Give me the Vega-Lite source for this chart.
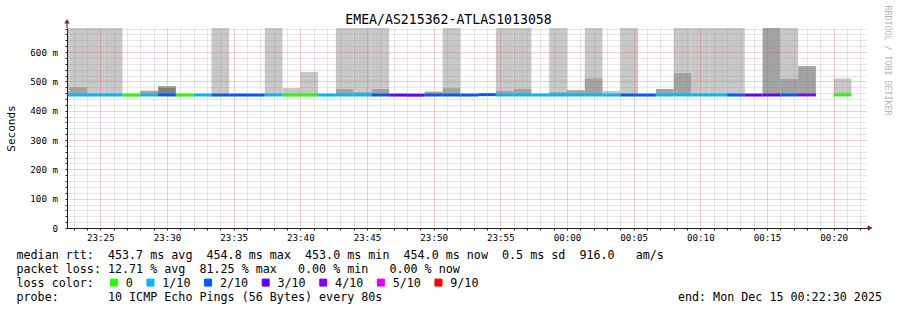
{
  "$schema": "https://vega.github.io/schema/vega-lite/v6.json",
  "width": 800,
  "height": 200,
  "autosize": {"type": "none"},
  "padding": {"left": 67, "top": 28, "right": 30, "bottom": 82},
  "background": "white",
  "config": {"view": {"stroke": null}, "font": "DejaVu Sans Mono"},
  "title": {"text": "EMEA/AS215362-ATLAS1013058", "font": "DejaVu Sans Mono", "fontSize": 13.2, "fontWeight": "normal", "color": "#000000", "anchor": "middle", "frame": "group", "dx": -18.5, "dy": 36.5, "baseline": "alphabetic", "offset": 4},
  "datasets": {
    "smoke": [
      {"t0": "2025-12-14T23:21:20", "t1": "2025-12-14T23:22:40", "lo": 453.5, "hi": 464, "shade": "dark"},
      {"t0": "2025-12-14T23:21:20", "t1": "2025-12-14T23:22:40", "lo": 464, "hi": 682, "shade": "light"},
      {"t0": "2025-12-14T23:22:40", "t1": "2025-12-14T23:24:00", "lo": 453.5, "hi": 482, "shade": "dark"},
      {"t0": "2025-12-14T23:22:40", "t1": "2025-12-14T23:24:00", "lo": 482, "hi": 682, "shade": "light"},
      {"t0": "2025-12-14T23:24:00", "t1": "2025-12-14T23:25:20", "lo": 453.5, "hi": 682, "shade": "light"},
      {"t0": "2025-12-14T23:25:20", "t1": "2025-12-14T23:26:40", "lo": 453.5, "hi": 682, "shade": "light"},
      {"t0": "2025-12-14T23:28:00", "t1": "2025-12-14T23:29:20", "lo": 453.5, "hi": 468, "shade": "dark"},
      {"t0": "2025-12-14T23:29:20", "t1": "2025-12-14T23:30:40", "lo": 453.5, "hi": 480, "shade": "darker"},
      {"t0": "2025-12-14T23:29:20", "t1": "2025-12-14T23:30:40", "lo": 480, "hi": 484, "shade": "dark"},
      {"t0": "2025-12-14T23:33:20", "t1": "2025-12-14T23:34:40", "lo": 453.5, "hi": 682, "shade": "light"},
      {"t0": "2025-12-14T23:37:20", "t1": "2025-12-14T23:38:40", "lo": 453.5, "hi": 682, "shade": "light"},
      {"t0": "2025-12-14T23:38:40", "t1": "2025-12-14T23:40:00", "lo": 453.5, "hi": 477, "shade": "light"},
      {"t0": "2025-12-14T23:40:00", "t1": "2025-12-14T23:41:20", "lo": 453.5, "hi": 532, "shade": "light"},
      {"t0": "2025-12-14T23:42:40", "t1": "2025-12-14T23:44:00", "lo": 453.5, "hi": 475, "shade": "dark"},
      {"t0": "2025-12-14T23:42:40", "t1": "2025-12-14T23:44:00", "lo": 475, "hi": 682, "shade": "light"},
      {"t0": "2025-12-14T23:44:00", "t1": "2025-12-14T23:45:20", "lo": 453.5, "hi": 465, "shade": "dark"},
      {"t0": "2025-12-14T23:44:00", "t1": "2025-12-14T23:45:20", "lo": 465, "hi": 682, "shade": "light"},
      {"t0": "2025-12-14T23:45:20", "t1": "2025-12-14T23:46:40", "lo": 453.5, "hi": 475, "shade": "dark"},
      {"t0": "2025-12-14T23:45:20", "t1": "2025-12-14T23:46:40", "lo": 475, "hi": 682, "shade": "light"},
      {"t0": "2025-12-14T23:49:20", "t1": "2025-12-14T23:50:40", "lo": 453.5, "hi": 465, "shade": "dark"},
      {"t0": "2025-12-14T23:50:40", "t1": "2025-12-14T23:52:00", "lo": 453.5, "hi": 477, "shade": "dark"},
      {"t0": "2025-12-14T23:50:40", "t1": "2025-12-14T23:52:00", "lo": 477, "hi": 682, "shade": "light"},
      {"t0": "2025-12-14T23:54:40", "t1": "2025-12-14T23:56:00", "lo": 453.5, "hi": 467, "shade": "dark"},
      {"t0": "2025-12-14T23:54:40", "t1": "2025-12-14T23:56:00", "lo": 467, "hi": 682, "shade": "light"},
      {"t0": "2025-12-14T23:56:00", "t1": "2025-12-14T23:57:20", "lo": 453.5, "hi": 474, "shade": "dark"},
      {"t0": "2025-12-14T23:56:00", "t1": "2025-12-14T23:57:20", "lo": 474, "hi": 682, "shade": "light"},
      {"t0": "2025-12-14T23:58:40", "t1": "2025-12-15T00:00:00", "lo": 453.5, "hi": 465, "shade": "dark"},
      {"t0": "2025-12-14T23:58:40", "t1": "2025-12-15T00:00:00", "lo": 465, "hi": 682, "shade": "light"},
      {"t0": "2025-12-15T00:00:00", "t1": "2025-12-15T00:01:20", "lo": 453.5, "hi": 470, "shade": "dark"},
      {"t0": "2025-12-15T00:01:20", "t1": "2025-12-15T00:02:40", "lo": 453.5, "hi": 511, "shade": "dark"},
      {"t0": "2025-12-15T00:01:20", "t1": "2025-12-15T00:02:40", "lo": 511, "hi": 682, "shade": "light"},
      {"t0": "2025-12-15T00:02:40", "t1": "2025-12-15T00:04:00", "lo": 453.5, "hi": 467, "shade": "light"},
      {"t0": "2025-12-15T00:04:00", "t1": "2025-12-15T00:05:20", "lo": 453.5, "hi": 682, "shade": "light"},
      {"t0": "2025-12-15T00:06:40", "t1": "2025-12-15T00:08:00", "lo": 453.5, "hi": 474, "shade": "dark"},
      {"t0": "2025-12-15T00:08:00", "t1": "2025-12-15T00:09:20", "lo": 453.5, "hi": 529, "shade": "dark"},
      {"t0": "2025-12-15T00:08:00", "t1": "2025-12-15T00:09:20", "lo": 529, "hi": 682, "shade": "light"},
      {"t0": "2025-12-15T00:09:20", "t1": "2025-12-15T00:10:40", "lo": 453.5, "hi": 682, "shade": "light"},
      {"t0": "2025-12-15T00:10:40", "t1": "2025-12-15T00:12:00", "lo": 453.5, "hi": 682, "shade": "light"},
      {"t0": "2025-12-15T00:12:00", "t1": "2025-12-15T00:13:20", "lo": 453.5, "hi": 682, "shade": "light"},
      {"t0": "2025-12-15T00:14:40", "t1": "2025-12-15T00:16:00", "lo": 453.5, "hi": 682, "shade": "dark"},
      {"t0": "2025-12-15T00:16:00", "t1": "2025-12-15T00:17:20", "lo": 453.5, "hi": 508, "shade": "dark"},
      {"t0": "2025-12-15T00:16:00", "t1": "2025-12-15T00:17:20", "lo": 508, "hi": 682, "shade": "light"},
      {"t0": "2025-12-15T00:17:20", "t1": "2025-12-15T00:18:40", "lo": 453.5, "hi": 552, "shade": "dark"},
      {"t0": "2025-12-15T00:20:00", "t1": "2025-12-15T00:21:20", "lo": 453.5, "hi": 510, "shade": "light"}
    ],
    "median": [
      {"t0": "2025-12-14T23:21:20", "t1": "2025-12-14T23:22:40", "med": 453.5, "loss": "1/10"},
      {"t0": "2025-12-14T23:22:40", "t1": "2025-12-14T23:24:00", "med": 453.6, "loss": "1/10"},
      {"t0": "2025-12-14T23:24:00", "t1": "2025-12-14T23:25:20", "med": 453.5, "loss": "1/10"},
      {"t0": "2025-12-14T23:25:20", "t1": "2025-12-14T23:26:40", "med": 453.5, "loss": "1/10"},
      {"t0": "2025-12-14T23:26:40", "t1": "2025-12-14T23:28:00", "med": 453.4, "loss": "0"},
      {"t0": "2025-12-14T23:28:00", "t1": "2025-12-14T23:29:20", "med": 453.6, "loss": "1/10"},
      {"t0": "2025-12-14T23:29:20", "t1": "2025-12-14T23:30:40", "med": 453.7, "loss": "2/10"},
      {"t0": "2025-12-14T23:30:40", "t1": "2025-12-14T23:32:00", "med": 453.4, "loss": "0"},
      {"t0": "2025-12-14T23:32:00", "t1": "2025-12-14T23:33:20", "med": 453.5, "loss": "1/10"},
      {"t0": "2025-12-14T23:33:20", "t1": "2025-12-14T23:34:40", "med": 453.5, "loss": "2/10"},
      {"t0": "2025-12-14T23:34:40", "t1": "2025-12-14T23:36:00", "med": 453.5, "loss": "2/10"},
      {"t0": "2025-12-14T23:36:00", "t1": "2025-12-14T23:37:20", "med": 453.5, "loss": "2/10"},
      {"t0": "2025-12-14T23:37:20", "t1": "2025-12-14T23:38:40", "med": 453.6, "loss": "1/10"},
      {"t0": "2025-12-14T23:38:40", "t1": "2025-12-14T23:40:00", "med": 453.5, "loss": "0"},
      {"t0": "2025-12-14T23:40:00", "t1": "2025-12-14T23:41:20", "med": 453.5, "loss": "0"},
      {"t0": "2025-12-14T23:41:20", "t1": "2025-12-14T23:42:40", "med": 453.4, "loss": "1/10"},
      {"t0": "2025-12-14T23:42:40", "t1": "2025-12-14T23:44:00", "med": 453.6, "loss": "1/10"},
      {"t0": "2025-12-14T23:44:00", "t1": "2025-12-14T23:45:20", "med": 453.5, "loss": "1/10"},
      {"t0": "2025-12-14T23:45:20", "t1": "2025-12-14T23:46:40", "med": 453.6, "loss": "2/10"},
      {"t0": "2025-12-14T23:46:40", "t1": "2025-12-14T23:48:00", "med": 453.3, "loss": "3/10"},
      {"t0": "2025-12-14T23:48:00", "t1": "2025-12-14T23:49:20", "med": 453.0, "loss": "3/10"},
      {"t0": "2025-12-14T23:49:20", "t1": "2025-12-14T23:50:40", "med": 453.5, "loss": "2/10"},
      {"t0": "2025-12-14T23:50:40", "t1": "2025-12-14T23:52:00", "med": 453.6, "loss": "2/10"},
      {"t0": "2025-12-14T23:52:00", "t1": "2025-12-14T23:53:20", "med": 453.4, "loss": "2/10"},
      {"t0": "2025-12-14T23:53:20", "t1": "2025-12-14T23:54:40", "med": 454.8, "loss": "2/10"},
      {"t0": "2025-12-14T23:54:40", "t1": "2025-12-14T23:56:00", "med": 453.6, "loss": "1/10"},
      {"t0": "2025-12-14T23:56:00", "t1": "2025-12-14T23:57:20", "med": 453.6, "loss": "1/10"},
      {"t0": "2025-12-14T23:57:20", "t1": "2025-12-14T23:58:40", "med": 453.5, "loss": "1/10"},
      {"t0": "2025-12-14T23:58:40", "t1": "2025-12-15T00:00:00", "med": 453.5, "loss": "1/10"},
      {"t0": "2025-12-15T00:00:00", "t1": "2025-12-15T00:01:20", "med": 453.6, "loss": "1/10"},
      {"t0": "2025-12-15T00:01:20", "t1": "2025-12-15T00:02:40", "med": 453.7, "loss": "1/10"},
      {"t0": "2025-12-15T00:02:40", "t1": "2025-12-15T00:04:00", "med": 453.5, "loss": "1/10"},
      {"t0": "2025-12-15T00:04:00", "t1": "2025-12-15T00:05:20", "med": 453.5, "loss": "2/10"},
      {"t0": "2025-12-15T00:05:20", "t1": "2025-12-15T00:06:40", "med": 453.4, "loss": "2/10"},
      {"t0": "2025-12-15T00:06:40", "t1": "2025-12-15T00:08:00", "med": 453.6, "loss": "1/10"},
      {"t0": "2025-12-15T00:08:00", "t1": "2025-12-15T00:09:20", "med": 453.8, "loss": "1/10"},
      {"t0": "2025-12-15T00:09:20", "t1": "2025-12-15T00:10:40", "med": 453.6, "loss": "1/10"},
      {"t0": "2025-12-15T00:10:40", "t1": "2025-12-15T00:12:00", "med": 453.6, "loss": "1/10"},
      {"t0": "2025-12-15T00:12:00", "t1": "2025-12-15T00:13:20", "med": 453.5, "loss": "2/10"},
      {"t0": "2025-12-15T00:13:20", "t1": "2025-12-15T00:14:40", "med": 453.4, "loss": "3/10"},
      {"t0": "2025-12-15T00:14:40", "t1": "2025-12-15T00:16:00", "med": 453.6, "loss": "3/10"},
      {"t0": "2025-12-15T00:16:00", "t1": "2025-12-15T00:17:20", "med": 453.7, "loss": "2/10"},
      {"t0": "2025-12-15T00:17:20", "t1": "2025-12-15T00:18:40", "med": 453.8, "loss": "4/10"},
      {"t0": "2025-12-15T00:20:00", "t1": "2025-12-15T00:21:20", "med": 454.0, "loss": "0"}
    ],
    "axisext": [
      {"t0": "2025-12-15T00:22:30", "t1": "2025-12-15T00:22:42", "v0": 0, "v1": 0},
      {"t0": "2025-12-14T23:22:30", "t1": "2025-12-14T23:22:30", "v0": 682, "v1": 702}
    ],
    "arrows": [
      {"t": "2025-12-15T00:22:44", "v": 0, "dir": "right"},
      {"t": "2025-12-14T23:22:30", "v": 705, "dir": "up"}
    ]
  },
  "layer": [
    {
      "data": {"name": "smoke"},
      "mark": {"type": "rect", "clip": true},
      "encoding": {
        "x": {
          "field": "t0", "type": "temporal",
          "scale": {"domain": [{"year": 2025, "month": 12, "date": 14, "hours": 23, "minutes": 22, "seconds": 30}, {"year": 2025, "month": 12, "date": 15, "hours": 0, "minutes": 22, "seconds": 30}], "nice": false},
          "axis": {
            "tickCount": 60,
            "labelExpr": "minutes(datum.value) % 5 === 0 ? timeFormat(datum.value, '%H:%M') : ''",
            "labelFont": "DejaVu Sans Mono", "labelFontSize": 9.2, "labelColor": "#000000", "labelPadding": 3, "labelFlush": false, "labelOverlap": false, "labelBound": false,
            "tickSize": 2, "tickColor": "#202020",
            "domainColor": "#202020", "domainWidth": 1,
            "grid": true,
            "gridColor": {"condition": {"test": "minutes(datum.value) % 5 === 0", "value": "#de4f4f"}, "value": "#8f8f8f"},
            "gridOpacity": {"condition": {"test": "minutes(datum.value) % 5 === 0", "value": 0.55}, "value": 0.45},
            "gridDash": [1, 1], "gridWidth": 1,
            "zindex": 1,
            "title": [
              "median rtt:\u00a0\u00a0453.7 ms avg\u00a0\u00a0454.8 ms max\u00a0\u00a0453.0 ms min\u00a0\u00a0454.0 ms now\u00a0\u00a00.5 ms sd\u00a0\u00a0916.0\u00a0\u00a0\u00a0am/s",
              "packet loss: 12.71 % avg\u00a0\u00a081.25 % max\u00a0\u00a0\u00a00.00 % min\u00a0\u00a0\u00a00.00 % now",
              "loss color:",
              "probe:\u00a0\u00a0\u00a0\u00a0\u00a0\u00a0\u00a010 ICMP Echo Pings (56 Bytes) every 80s\u00a0\u00a0\u00a0\u00a0\u00a0\u00a0\u00a0\u00a0\u00a0\u00a0\u00a0\u00a0\u00a0\u00a0\u00a0\u00a0\u00a0\u00a0\u00a0\u00a0\u00a0\u00a0\u00a0\u00a0\u00a0\u00a0\u00a0\u00a0\u00a0\u00a0\u00a0\u00a0\u00a0\u00a0\u00a0\u00a0\u00a0\u00a0\u00a0\u00a0\u00a0\u00a0end: Mon Dec 15 00:22:30 2025"
            ],
            "titleFont": "DejaVu Sans Mono", "titleFontSize": 11.7, "titleFontWeight": "normal", "titleColor": "#000000",
            "titleAlign": "left", "titleAnchor": "start", "titleBaseline": "alphabetic", "titleX": -51, "titleY": 30, "titleLineHeight": 14, "titleLimit": 5000
          }
        },
        "x2": {"field": "t1"},
        "y": {
          "field": "lo", "type": "quantitative",
          "scale": {"domain": [0, 682], "nice": false, "zero": true},
          "axis": {
            "values": [0, 20, 40, 60, 80, 100, 120, 140, 160, 180, 200, 220, 240, 260, 280, 300, 320, 340, 360, 380, 400, 420, 440, 460, 480, 500, 520, 540, 560, 580, 600, 620, 640, 660, 680],
            "labelExpr": "datum.value % 100 === 0 ? (datum.value === 0 ? '0' : datum.value + ' m') : ''",
            "labelFont": "DejaVu Sans Mono", "labelFontSize": 9.2, "labelColor": "#000000", "labelPadding": 7.5, "labelOverlap": false, "labelBaseline": "middle", "labelFlush": false,
            "tickSize": 2, "tickColor": "#202020",
            "domainColor": "#202020", "domainWidth": 1,
            "grid": true,
            "gridColor": {"condition": {"test": "datum.value % 100 === 0", "value": "#de4f4f"}, "value": "#8f8f8f"},
            "gridOpacity": {"condition": {"test": "datum.value % 100 === 0", "value": 0.55}, "value": 0.45},
            "gridDash": [1, 1], "gridWidth": 1,
            "zindex": 1,
            "title": "Seconds", "titleFont": "DejaVu Sans Mono", "titleFontSize": 11, "titleFontWeight": "normal", "titleColor": "#000000",
            "titleAngle": -90, "titleX": -56, "titleY": 100, "titleAlign": "center", "titleBaseline": "middle"
          }
        },
        "y2": {"field": "hi"},
        "fill": {"field": "shade", "type": "nominal", "scale": {"domain": ["light", "dark", "darker"], "range": ["#c8c8c8", "#a3a3a3", "#808080"]}, "legend": null}
      }
    },
    {
      "data": {"name": "median"},
      "mark": {"type": "rule", "strokeWidth": 3, "strokeCap": "butt", "clip": true},
      "encoding": {
        "x": {"field": "t0", "type": "temporal", "scale": {"domain": [{"year": 2025, "month": 12, "date": 14, "hours": 23, "minutes": 22, "seconds": 30}, {"year": 2025, "month": 12, "date": 15, "hours": 0, "minutes": 22, "seconds": 30}], "nice": false}},
        "x2": {"field": "t1"},
        "y": {"field": "med", "type": "quantitative", "scale": {"domain": [0, 682], "nice": false}, "axis": null},
        "stroke": {
          "field": "loss", "type": "nominal",
          "scale": {"domain": ["0", "1/10", "2/10", "3/10", "4/10", "5/10", "9/10"], "range": ["#26ff00", "#00b8ff", "#0059ff", "#5e00ff", "#7e00ff", "#dd00ff", "#ff0000"]},
          "legend": {
            "orient": "none", "legendX": 41, "legendY": 248.5, "direction": "horizontal",
            "title": null,
            "labelFont": "DejaVu Sans Mono", "labelFontSize": 11.7, "labelColor": "#000000", "labelOffset": 6,
            "symbolType": "square", "symbolSize": 49, "symbolStrokeWidth": 1,
            "columnPadding": 11.6, "padding": 0, "offset": 0,
            "encode": {"symbols": {"update": {"fill": {"scale": "stroke", "field": "value"}, "stroke": {"value": "#000000"}, "strokeWidth": {"value": 1}, "opacity": {"value": 1}}}}
          }
        }
      }
    },
    {
      "data": {"name": "axisext"},
      "mark": {"type": "rule", "color": "#202020", "strokeWidth": 1, "clip": false},
      "encoding": {
        "x": {"field": "t0", "type": "temporal", "scale": {"domain": [{"year": 2025, "month": 12, "date": 14, "hours": 23, "minutes": 22, "seconds": 30}, {"year": 2025, "month": 12, "date": 15, "hours": 0, "minutes": 22, "seconds": 30}], "nice": false}},
        "x2": {"field": "t1"},
        "y": {"field": "v0", "type": "quantitative", "scale": {"domain": [0, 682], "nice": false}, "axis": null},
        "y2": {"field": "v1"}
      }
    },
    {
      "data": {"name": "arrows"},
      "transform": [{"filter": "datum.dir === 'right'"}],
      "mark": {"type": "point", "shape": "triangle-right", "filled": true, "color": "#801f1f", "size": 28, "opacity": 1},
      "encoding": {
        "x": {"field": "t", "type": "temporal", "scale": {"domain": [{"year": 2025, "month": 12, "date": 14, "hours": 23, "minutes": 22, "seconds": 30}, {"year": 2025, "month": 12, "date": 15, "hours": 0, "minutes": 22, "seconds": 30}], "nice": false}},
        "y": {"field": "v", "type": "quantitative", "scale": {"domain": [0, 682], "nice": false}, "axis": null}
      }
    },
    {
      "data": {"name": "arrows"},
      "transform": [{"filter": "datum.dir === 'up'"}],
      "mark": {"type": "point", "shape": "triangle-up", "filled": true, "color": "#801f1f", "size": 28, "opacity": 1},
      "encoding": {
        "x": {"field": "t", "type": "temporal", "scale": {"domain": [{"year": 2025, "month": 12, "date": 14, "hours": 23, "minutes": 22, "seconds": 30}, {"year": 2025, "month": 12, "date": 15, "hours": 0, "minutes": 22, "seconds": 30}], "nice": false}},
        "y": {
          "field": "v", "type": "quantitative", "scale": {"domain": [0, 682], "nice": false},
          "axis": {"orient": "right", "title": "RRDTOOL / TOBI OETIKER", "labels": false, "ticks": false, "domain": false, "grid": false,
            "titleAngle": 90, "titleX": 19, "titleY": 32, "titleAlign": "center", "titleBaseline": "middle",
            "titleFont": "DejaVu Sans Mono", "titleFontSize": 8.3, "titleFontWeight": "normal", "titleColor": "#b4b4b4"}
        }
      }
    }
  ],
  "resolve": {"axis": {"y": "independent"}}
}
